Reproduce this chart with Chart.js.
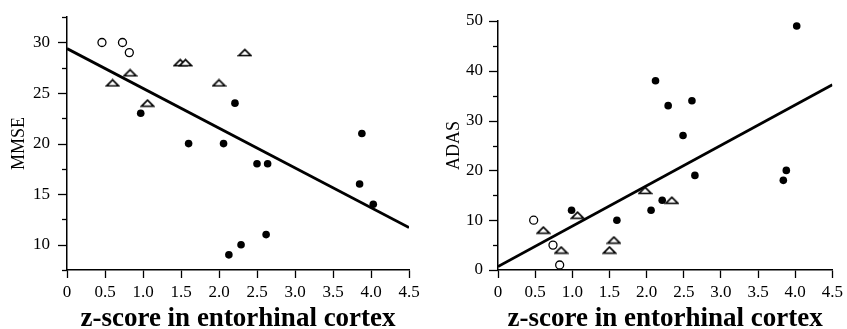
<!DOCTYPE html>
<html><head><meta charset="utf-8">
<script src="https://cdn.jsdelivr.net/npm/chart.js@4.4.0/dist/chart.umd.min.js"></script>
<style>
html,body{margin:0;padding:0;background:#fff;}
#wrap{position:relative;width:847px;height:329px;overflow:hidden;background:#fff;}
.c{position:absolute;top:0;height:329px;}
</style></head><body>
<div id="wrap">
<div class="c" style="left:0;width:424px"><canvas id="c1"></canvas></div>
<div class="c" style="left:424px;width:423px"><canvas id="c2"></canvas></div>
</div>
<script>
// ---- data: MMSE panel ----
const mmseOpenX = [0.46, 0.73, 0.82];
const mmseOpenY = [30, 30, 29];
const mmseTriX = [0.60, 0.83, 1.06, 1.49, 1.56, 2.00, 2.34];
const mmseTriY = [26, 27, 24, 28, 28, 26, 29];
const mmseDotX = [0.97, 1.60, 2.06, 2.21, 2.50, 2.64, 3.88, 3.85, 4.03, 2.62, 2.29, 2.13];
const mmseDotY = [23, 20, 20, 24, 18, 18, 21, 16, 14, 11, 10, 9];
const mmseFitX = [0, 4.5];
const mmseFitY = [29.4, 11.7];

// ---- data: ADAS panel ----
const adasOpenX = [0.48, 0.74, 0.83];
const adasOpenY = [10, 5, 1];
const adasTriX = [0.61, 0.85, 1.07, 1.50, 1.56, 1.98, 2.34];
const adasTriY = [8, 4, 11, 4, 6, 16, 14];
const adasDotX = [0.99, 1.60, 2.06, 2.21, 2.65, 3.84, 3.88, 2.12, 2.29, 2.61, 2.49, 4.02];
const adasDotY = [12, 10, 12, 14, 19, 18, 20, 38, 33, 34, 27, 49];
const adasFitX = [0, 4.5];
const adasFitY = [0.7, 37.2];

// ---- axis labels ----
const xTitle = 'z-score in entorhinal cortex';
const mmseTitle = 'MMSE';
const adasTitle = 'ADAS';

const SERIF = '"Liberation Serif", "Times New Roman", serif';

function pts(xs, ys){ return xs.map((x,i)=>({x:x, y:ys[i]})); }

function triImg(){
  const c=document.createElement('canvas'); c.width=15; c.height=9;
  const g=c.getContext('2d');
  g.fillStyle='#fff'; g.strokeStyle='#000'; g.lineWidth=1.7; g.lineJoin='miter';
  g.beginPath(); g.moveTo(1.5,7.5); g.lineTo(13.5,7.5); g.lineTo(7.5,1.5); g.closePath();
  g.fill(); g.stroke();
  return c;
}
const TRI = triImg();

const yTickPlugin = {
  id:'yticks',
  afterDraw(chart, args, opts){
    const s = chart.scales.y; const ctx = chart.ctx;
    ctx.save(); ctx.strokeStyle='#000'; ctx.lineWidth=1.3;
    s.ticks.forEach(t=>{
      const py = Math.round(s.getPixelForValue(t.value))+0.5;
      const r = t.value / opts.major;
      const len = Math.abs(r - Math.round(r)) < 1e-6 ? 9 : 5;
      ctx.beginPath(); ctx.moveTo(s.right - len, py); ctx.lineTo(s.right, py); ctx.stroke();
    });
    ctx.restore();
  }
};

function makeChart(id, d){
  return new Chart(document.getElementById(id), {
    type:'scatter',
    data:{ datasets:[
      {data:pts(d.openX,d.openY), pointStyle:'circle', pointRadius:4, borderColor:'#000', backgroundColor:'#fff', borderWidth:1.3},
      {data:pts(d.triX,d.triY), pointStyle:TRI, pointRadius:6, borderColor:'#000', backgroundColor:'#fff'},
      {data:pts(d.dotX,d.dotY), pointStyle:'circle', pointRadius:3.8, borderColor:'#000', backgroundColor:'#000', borderWidth:0},
      {type:'line', data:pts(d.fitX,d.fitY), borderColor:'#000', borderWidth:2.8, pointRadius:0, fill:false}
    ]},
    options:{
      responsive:true, maintainAspectRatio:false, animation:false,
      layout:{padding:{top:d.padTop, right:d.padRight, left:0, bottom:0}},
      plugins:{legend:{display:false}, tooltip:{enabled:false}, yticks:{major:d.major}},
      scales:{
        x:{type:'linear', min:0, max:4.5,
           ticks:{stepSize:0.5, color:'#000', font:{family:SERIF, size:17}, padding:4, maxRotation:0, autoSkip:false},
           grid:{drawOnChartArea:false, drawTicks:true, tickLength:8, tickColor:'#000', tickWidth:1.3},
           border:{color:'#000', width:1.5},
           title:{display:true, text:xTitle, color:'#000', font:{family:SERIF, size:27, weight:'bold', lineHeight:0.75}, padding:{top:0,bottom:0}},
           afterFit:s=>{s.height=59;}
        },
        y:{type:'linear', min:d.yMin, max:d.yMax,
           ticks:{stepSize:d.yStep, color:'#000', font:{family:SERIF, size:17}, padding:d.yLabPad, autoSkip:false,
                  callback:v=>{const r=v/d.major; return Math.abs(r-Math.round(r))<1e-6 ? String(v) : '';}},
           grid:{drawOnChartArea:false, drawTicks:true, tickLength:10, tickColor:'rgba(0,0,0,0)'},
           border:{color:'#000', width:1.5},
           title:{display:true, text:d.yTitle, color:'#000', font:{family:SERIF, size:18, lineHeight:1.2}, padding:{top:d.yTitlePad,bottom:0}},
           afterFit:s=>{s.width=d.yWidth;}
        }
      }
    },
    plugins:[yTickPlugin]
  });
}

makeChart('c1', {openX:mmseOpenX, openY:mmseOpenY, triX:mmseTriX, triY:mmseTriY, dotX:mmseDotX, dotY:mmseDotY,
  fitX:mmseFitX, fitY:mmseFitY, yMin:7.5, yMax:32.5, yStep:2.5, major:5, yTitle:mmseTitle,
  yWidth:67, padTop:16, padRight:15, yLabPad:7, yTitlePad:8});
makeChart('c2', {openX:adasOpenX, openY:adasOpenY, triX:adasTriX, triY:adasTriY, dotX:adasDotX, dotY:adasDotY,
  fitX:adasFitX, fitY:adasFitY, yMin:0, yMax:50, yStep:5, major:10, yTitle:adasTitle,
  yWidth:74, padTop:21, padRight:12, yLabPad:5, yTitlePad:19});
</script>
</body></html>
